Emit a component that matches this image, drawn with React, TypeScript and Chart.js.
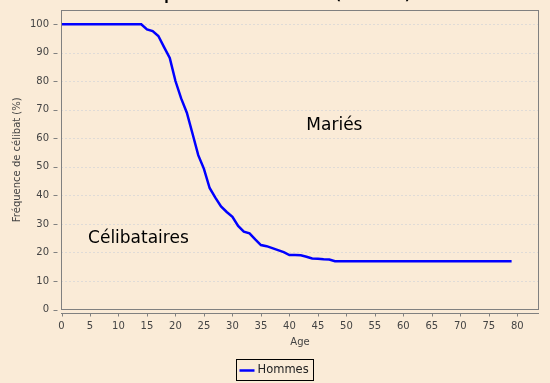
import React, { useEffect, useRef } from "react";
import { Chart, registerables } from "chart.js";

Chart.register(...registerables);

// ---- Data ----
const ages = [
  0, 1, 2, 3, 4, 5, 6, 7, 8, 9, 10, 11, 12, 13, 14, 15, 16, 17, 18, 19,
  20, 21, 22, 23, 24, 25, 26, 27, 28, 29, 30, 31, 32, 33, 34, 35, 36, 37, 38, 39,
  40, 41, 42, 43, 44, 45, 46, 47, 48, 49, 50, 51, 52, 53, 54, 55, 56, 57, 58, 59,
  60, 61, 62, 63, 64, 65, 66, 67, 68, 69, 70, 71, 72, 73, 74, 75, 76, 77, 78, 79,
];
const hommes = [
  100, 100, 100, 100, 100, 100, 100, 100, 100, 100, 100, 100, 100, 100, 100, 98.2, 97.6, 95.9, 92.0, 88.2,
  80.1, 74.0, 69.0, 61.6, 54.1, 49.3, 42.6, 39.2, 36.1, 34.2, 32.5, 29.3, 27.3, 26.7, 24.6, 22.6, 22.2, 21.5, 20.8, 20.1,
  19.1, 19.1, 19.0, 18.5, 17.9, 17.8, 17.6, 17.5, 16.9, 16.9, 16.9, 16.9, 16.9, 16.9, 16.9, 16.9, 16.9, 16.9, 16.9, 16.9,
  16.9, 16.9, 16.9, 16.9, 16.9, 16.9, 16.9, 16.9, 16.9, 16.9, 16.9, 16.9, 16.9, 16.9, 16.9, 16.9, 16.9, 16.9, 16.9, 16.9,
];
const xTicks = [0, 5, 10, 15, 20, 25, 30, 35, 40, 45, 50, 55, 60, 65, 70, 75, 80];
const yTicks = [0, 10, 20, 30, 40, 50, 60, 70, 80, 90, 100];
const seriesLabel = "Hommes";
const xTitle = "Age";
const yTitle = "Fréquence de célibat (%)";
const chartTitle = "Proportion de célibataires (Hommes)";
const annotationTexts = ["Célibataires", "Mariés"];
const annotationX = [13.5, 47.9];
const annotationY = [25, 64.5];

// ---- Styles ----
const FONT = "DejaVu Sans";
const BG = "#faebd7";
const TICK_COLOR = "#444444";
const FRAME_COLOR = "#808080";
const LINE_COLOR = "#0000ff";
const GRID_COLOR = "#c4cad6";

const decor = {
  id: "decor",
  beforeDraw(chart: any) {
    const ctx = chart.ctx;
    ctx.save();
    ctx.fillStyle = BG;
    ctx.fillRect(0, 0, chart.width, chart.height);
    ctx.restore();
  },
  beforeDatasetsDraw(chart: any) {
    const ctx = chart.ctx;
    const { left, right } = chart.chartArea;
    const ys = chart.scales.y;
    ctx.save();
    ctx.strokeStyle = GRID_COLOR;
    ctx.lineWidth = 1;
    ctx.setLineDash([1, 3]);
    yTicks.forEach((v) => {
      if (v === 0) return;
      const py = Math.round(ys.getPixelForValue(v)) + 0.5;
      ctx.beginPath();
      ctx.moveTo(left, py);
      ctx.lineTo(right, py);
      ctx.stroke();
    });
    ctx.restore();
  },
  afterDatasetsDraw(chart: any) {
    const ctx = chart.ctx;
    const { left, right, top, bottom } = chart.chartArea;
    const xs = chart.scales.x;
    const ys = chart.scales.y;
    ctx.save();
    const l = Math.floor(left) + 0.5;
    const t = Math.floor(top) + 0.5;
    const r = Math.floor(right) + 0.5;
    const b = Math.floor(bottom) + 0.5;
    ctx.strokeStyle = FRAME_COLOR;
    ctx.lineWidth = 1;
    ctx.strokeRect(l, t, r - l, b - t);
    ctx.fillStyle = "#000000";
    ctx.font = `17px "${FONT}"`;
    ctx.textAlign = "center";
    ctx.textBaseline = "middle";
    annotationTexts.forEach((txt, i) => {
      ctx.fillText(txt, xs.getPixelForValue(annotationX[i]), ys.getPixelForValue(annotationY[i]));
    });
    ctx.restore();
  },
  afterDraw(chart: any) {
    const ctx = chart.ctx;
    const { left, right, bottom } = chart.chartArea;
    const xs = chart.scales.x;
    const ys = chart.scales.y;
    ctx.save();
    ctx.strokeStyle = FRAME_COLOR;
    ctx.lineWidth = 1;
    const ay = Math.floor(bottom) + 4.5;
    ctx.beginPath();
    ctx.moveTo(Math.floor(left), ay);
    ctx.lineTo(Math.floor(right) + 1, ay);
    ctx.stroke();
    xTicks.forEach((v) => {
      const px = Math.round(xs.getPixelForValue(v)) + 0.5;
      ctx.beginPath();
      ctx.moveTo(px, ay);
      ctx.lineTo(px, ay + 3);
      ctx.stroke();
    });
    const ax = Math.floor(left) - 4 + 0.5;
    yTicks.forEach((v) => {
      const py = Math.round(ys.getPixelForValue(v)) + 0.5;
      ctx.beginPath();
      ctx.moveTo(ax - 4, py);
      ctx.lineTo(ax, py);
      ctx.stroke();
    });
    // legend
    const lx = 236.5, ly = 359.5, lw = 77, lh = 21;
    ctx.strokeStyle = "#000000";
    ctx.strokeRect(lx, ly, lw, lh);
    ctx.strokeStyle = LINE_COLOR;
    ctx.lineWidth = 2.5;
    ctx.beginPath();
    ctx.moveTo(lx + 3, ly + 11);
    ctx.lineTo(lx + 18, ly + 11);
    ctx.stroke();
    ctx.fillStyle = "#222222";
    ctx.font = `11.5px "${FONT}"`;
    ctx.textAlign = "left";
    ctx.textBaseline = "middle";
    ctx.fillText(seriesLabel, lx + 21, ly + 11);
    // title (cut off at the top)
    ctx.fillStyle = "#000000";
    ctx.font = `bold 13px "${FONT}"`;
    ctx.textAlign = "center";
    ctx.textBaseline = "alphabetic";
    ctx.fillText(chartTitle, 275, -0.5);
    ctx.restore();
  },
};

export default function App() {
  const ref = useRef<HTMLCanvasElement>(null);
  useEffect(() => {
    const canvas = ref.current;
    if (!canvas) return;
    const chart = new Chart(canvas, {
      type: "line",
      data: {
        datasets: [
          {
            label: seriesLabel,
            data: ages.map((a, i) => ({ x: a, y: hommes[i] })),
            borderColor: LINE_COLOR,
            backgroundColor: LINE_COLOR,
            borderWidth: 2.5,
            pointRadius: 0,
            tension: 0,
            fill: false,
          },
        ],
      },
      options: {
        responsive: false,
        animation: false,
        devicePixelRatio: 1,
        layout: { padding: { top: 10, right: 11.5, bottom: 0, left: 0 } },
        plugins: {
          legend: { display: false },
          tooltip: { enabled: false },
          title: { display: false },
        },
        scales: {
          x: {
            type: "linear",
            min: 0,
            max: 83.72,
            afterBuildTicks: (s: any) => {
              s.ticks = xTicks.map((v) => ({ value: v }));
            },
            afterFit: (s: any) => {
              s.height = 73.5;
              s.paddingLeft = 0;
              s.paddingRight = 0;
            },
            grid: { display: false, drawTicks: false },
            border: { display: false },
            ticks: {
              font: { family: FONT, size: 10 },
              color: TICK_COLOR,
              padding: 11,
              maxRotation: 0,
              autoSkip: false,
            },
            title: {
              display: true,
              text: xTitle,
              font: { family: FONT, size: 10 },
              color: TICK_COLOR,
              padding: { top: 0, bottom: 34.5 },
            },
          },
          y: {
            type: "linear",
            min: 0,
            max: 105,
            afterBuildTicks: (s: any) => {
              s.ticks = yTicks.map((v) => ({ value: v }));
            },
            afterFit: (s: any) => {
              s.width = 61.5;
              s.paddingTop = 0;
              s.paddingBottom = 0;
            },
            grid: { display: false, drawTicks: false },
            border: { display: false },
            ticks: {
              font: { family: FONT, size: 10 },
              color: TICK_COLOR,
              padding: 12.5,
              autoSkip: false,
            },
            title: {
              display: true,
              text: yTitle,
              font: { family: FONT, size: 10 },
              color: TICK_COLOR,
              padding: { top: 11, bottom: 0 },
            },
          },
        },
      },
      plugins: [decor],
    } as any);
    return () => chart.destroy();
  }, []);
  return (
    <div style={{ position: "absolute", left: 0, top: 0, width: 550, height: 383 }}>
      <canvas ref={ref} width={550} height={383} style={{ display: "block", width: 550, height: 383 }} />
    </div>
  );
}
